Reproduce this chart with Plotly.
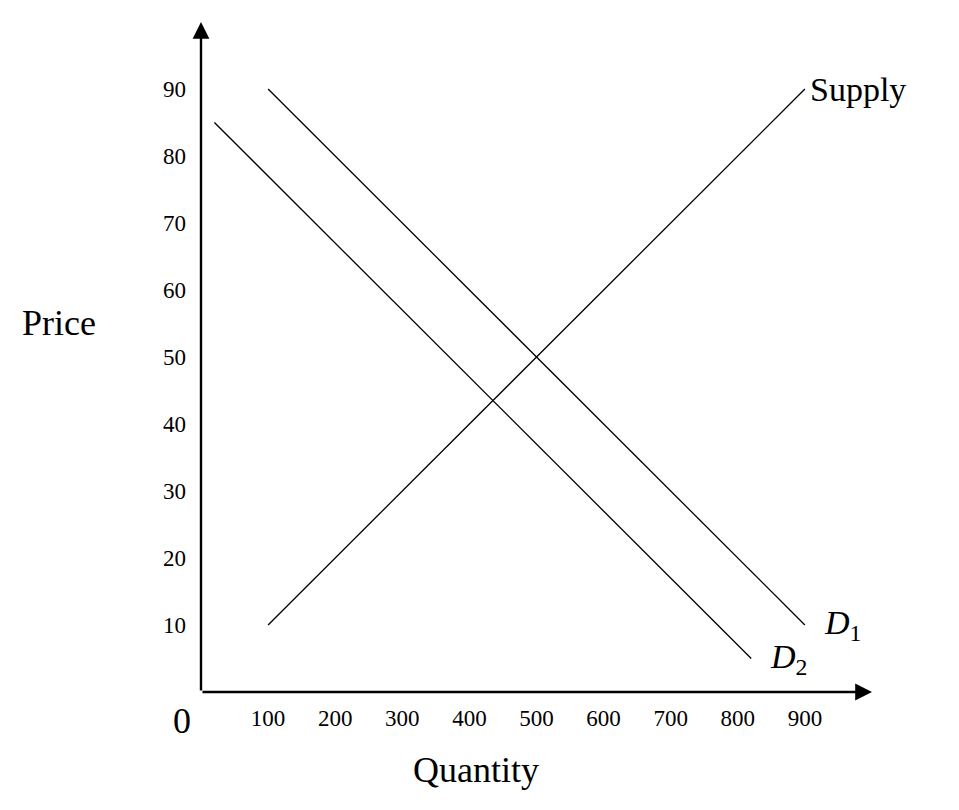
import plotly.graph_objects as go

# curve end points
supply_q = [100, 900]
supply_p = [10, 90]
d1_q = [100, 900]
d1_p = [90, 10]
d2_q = [20, 820]
d2_p = [85, 5]

x_ticks = [100, 200, 300, 400, 500, 600, 700, 800, 900]
y_ticks = [10, 20, 30, 40, 50, 60, 70, 80, 90]

serif = "Liberation Serif"
line = dict(color="black", width=1.3)

fig = go.Figure()
for q, p, name in [(supply_q, supply_p, "Supply"), (d1_q, d1_p, "D1"), (d2_q, d2_p, "D2")]:
    fig.add_trace(go.Scatter(x=q, y=p, mode="lines", line=line, name=name,
                             showlegend=False, hoverinfo="skip"))

# axes with arrow heads
fig.add_annotation(x=1000, y=0, ax=0, ay=0, xref="x", yref="y", axref="x", ayref="y",
                   text="", showarrow=True, arrowhead=2, arrowsize=1.4, arrowwidth=2.4,
                   arrowcolor="black")
fig.add_annotation(x=0, y=100, ax=0, ay=0, xref="x", yref="y", axref="x", ayref="y",
                   text="", showarrow=True, arrowhead=2, arrowsize=1.4, arrowwidth=2.4,
                   arrowcolor="black")

labels = [
    dict(x=905, y=90, text="Supply"),
    dict(x=925, y=10, text="<i>D</i><sub>1</sub>"),
    dict(x=845, y=5, text="<i>D</i><sub>2</sub>"),
]
for l in labels:
    fig.add_annotation(x=l["x"], y=l["y"], text=l["text"], xanchor="left",
                       yanchor="middle", showarrow=False,
                       font=dict(family=serif, size=34, color="black"))

fig.add_annotation(x=-0.27, y=0.55, xref="paper", yref="paper", text="Price",
                   showarrow=False, font=dict(family=serif, size=36, color="black"))
fig.add_annotation(x=0.41, y=-0.15, xref="paper", yref="paper", text="Quantity",
                   showarrow=False, font=dict(family=serif, size=36, color="black"))
fig.add_annotation(x=-0.045, y=-0.01, xref="paper", yref="paper", text="0",
                   showarrow=False, yanchor="top",
                   font=dict(family=serif, size=36, color="black"))

fig.update_xaxes(range=[0, 1000], tickvals=x_ticks, showgrid=False, zeroline=False,
                 showline=False, ticks="", ticklabelstandoff=10,
                 tickfont=dict(family=serif, size=23, color="black"))
fig.update_yaxes(range=[0, 100], tickvals=y_ticks, showgrid=False, zeroline=False,
                 showline=False, ticks="", ticklabelstandoff=14,
                 tickfont=dict(family=serif, size=23, color="black"))
fig.update_layout(width=959, height=810, plot_bgcolor="white", paper_bgcolor="white",
                  margin=dict(l=193, r=95, t=14, b=126, autoexpand=False))
fig.write_html("out.html")
